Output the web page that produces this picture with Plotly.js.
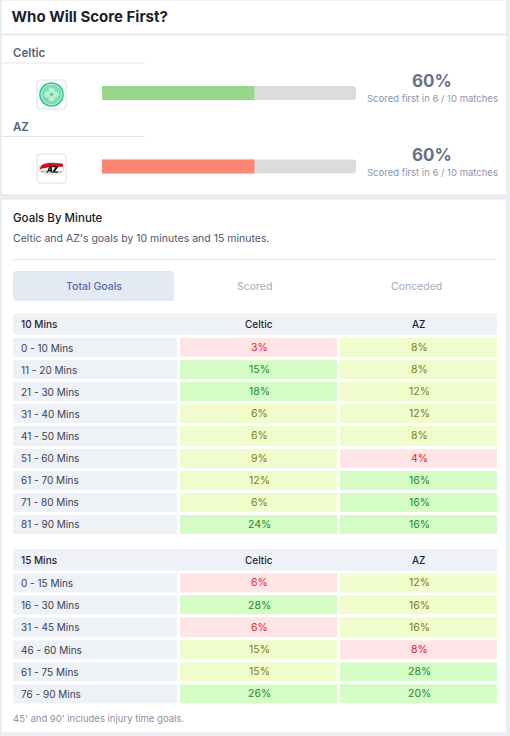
<!DOCTYPE html>
<html>
<head>
<meta charset="utf-8">
<script src="https://cdn.plot.ly/plotly-3.0.1.min.js"></script>
<style>
  html, body { margin: 0; padding: 0; background: #ebeef2; }
  #chart { width: 510px; height: 736px; }
</style>
</head>
<body>
<div id="chart"></div>
<script>
// ---------- data ----------
const teams = ['Celtic', 'AZ'];
const scoredFirst = [6, 6];
const matchesPlayed = [10, 10];
const teamBarColors = ['#98d68c', '#fa8673'];

const tabs = ['Total Goals', 'Scored', 'Conceded'];

const mins10 = ['0 - 10 Mins', '11 - 20 Mins', '21 - 30 Mins', '31 - 40 Mins', '41 - 50 Mins',
                '51 - 60 Mins', '61 - 70 Mins', '71 - 80 Mins', '81 - 90 Mins'];
const celtic10 = [3, 15, 18, 6, 6, 9, 12, 6, 24];
const az10 = [8, 8, 12, 12, 8, 4, 16, 16, 16];

const mins15 = ['0 - 15 Mins', '16 - 30 Mins', '31 - 45 Mins', '46 - 60 Mins', '61 - 75 Mins', '76 - 90 Mins'];
const celtic15 = [6, 28, 6, 15, 15, 26];
const az15 = [12, 16, 16, 8, 28, 20];

// ---------- styling helpers ----------
const W = 510, H = 736;
const X = px => px / W;
const Y = py => 1 - py / H;
const FONT = 'Inter, "Noto Sans", sans-serif';

const fills = ['#ffe5e5', '#f0fccb', '#d5fcc7'];
const inks = ['#e8232c', '#7c7d1c', '#178a2c'];
const labelFill = '#eef1f5';

function rating(v, n) {
  const expected = 100 / n;
  if (v < 0.5 * expected) return 0;
  if (v >= 1.2 * expected - 1e-9) return 2;
  return 1;
}

const discreteScale = [[0, fills[0]], [1/3, fills[0]], [1/3, fills[1]], [2/3, fills[1]], [2/3, fills[2]], [1, fills[2]]];

const pct = scoredFirst.map((s, i) => Math.round(s / matchesPlayed[i] * 100));

// ---------- traces ----------
const traces = [];
traces.push({
  type: 'bar', orientation: 'h', x: teams.map(() => 100), y: teams,
  xaxis: 'x', yaxis: 'y', width: 0.19,
  marker: { color: '#dcdcdc', cornerradius: 3 }, hoverinfo: 'skip', showlegend: false
});
traces.push({
  type: 'bar', orientation: 'h', x: pct, y: teams,
  xaxis: 'x', yaxis: 'y', width: 0.19,
  marker: { color: teamBarColors, cornerradius: 3 }, hoverinfo: 'skip', showlegend: false
});

function tableTraces(rows, cVals, aVals, xl, yl, xv, yv) {
  traces.push({
    type: 'heatmap', x: ['label'], y: rows, z: rows.map(() => [0]),
    xaxis: xl, yaxis: yl, ygap: 3, zmin: 0, zmax: 1,
    colorscale: [[0, labelFill], [1, labelFill]], showscale: false, hoverinfo: 'skip'
  });
  traces.push({
    type: 'heatmap', x: teams, y: rows,
    z: rows.map((r, i) => [rating(cVals[i], rows.length), rating(aVals[i], rows.length)]),
    xaxis: xv, yaxis: yv, xgap: 3, ygap: 3, zmin: 0, zmax: 2,
    colorscale: discreteScale, showscale: false, hoverinfo: 'skip'
  });
}
tableTraces(mins10, celtic10, az10, 'x2', 'y2', 'x3', 'y3');
tableTraces(mins15, celtic15, az15, 'x4', 'y4', 'x5', 'y5');

// ---------- shapes ----------
const shapes = [];
function rect(x0, y0, x1, y1, fill, line, lw) {
  shapes.push({ type: 'rect', xref: 'paper', yref: 'paper', x0: X(x0), x1: X(x1), y0: Y(y1), y1: Y(y0),
    fillcolor: fill, line: { color: line || fill, width: lw || 0 }, layer: 'below' });
}
function rrect(x0, y0, x1, y1, r, fill, line, lw) {
  const p = `M ${X(x0 + r)} ${Y(y0)} L ${X(x1 - r)} ${Y(y0)} Q ${X(x1)} ${Y(y0)} ${X(x1)} ${Y(y0 + r)} ` +
            `L ${X(x1)} ${Y(y1 - r)} Q ${X(x1)} ${Y(y1)} ${X(x1 - r)} ${Y(y1)} L ${X(x0 + r)} ${Y(y1)} ` +
            `Q ${X(x0)} ${Y(y1)} ${X(x0)} ${Y(y1 - r)} L ${X(x0)} ${Y(y0 + r)} Q ${X(x0)} ${Y(y0)} ${X(x0 + r)} ${Y(y0)} Z`;
  shapes.push({ type: 'path', xref: 'paper', yref: 'paper', path: p, fillcolor: fill,
    line: { color: line || fill, width: lw || 0 }, layer: 'below' });
}
function hline(x0, x1, y, color, w) {
  shapes.push({ type: 'line', xref: 'paper', yref: 'paper', x0: X(x0), x1: X(x1), y0: Y(y), y1: Y(y),
    line: { color: color, width: w }, layer: 'below' });
}
rect(1, 0, 507, 195, '#ffffff', '#e2e5ea', 1);
hline(1.5, 506.5, 34.5, '#e6e9ee', 2);
hline(1.5, 145, 63, '#e2e5ea', 1);
hline(1.5, 145, 136.5, '#e2e5ea', 1);
rrect(37, 80, 66, 109, 3, '#ffffff', '#dde0e7', 1);
rrect(37, 154, 66, 183, 3, '#ffffff', '#dde0e7', 1);
rect(1, 199, 507, 733, '#ffffff', '#e2e5ea', 1);
hline(13, 497, 259.5, '#e4e6eb', 1);
rrect(13, 271, 174, 301, 3, '#e4eaf4');
rect(13, 313.3, 497, 334.7, labelFill);
rect(13, 549, 497, 570.7, labelFill);

// ---------- annotations ----------
const ann = [];
function txt(o) {
  ann.push(Object.assign({ showarrow: false, xanchor: 'left', yanchor: 'middle', borderpad: 0 }, o));
}
teams.forEach((t, i) => {
  txt({ text: t, xref: 'paper', x: X(13), xshift: -1.5, yref: 'y', y: t, yshift: 39.5,
        font: { family: FONT, size: 11.5, color: '#5b6378', weight: 600 } });
  txt({ text: pct[i] + '%', xref: 'paper', x: X(432), xanchor: 'center', yref: 'y', y: t, yshift: 12,
        font: { family: FONT, size: 17, color: '#697185', weight: 700 } });
  txt({ text: 'Scored first in ' + scoredFirst[i] + ' / ' + matchesPlayed[i] + ' matches',
        xref: 'paper', x: X(432), xanchor: 'center', yref: 'y', y: t, yshift: -6,
        font: { family: FONT, size: 9.5, color: '#8d95a7' } });
});

txt({ text: 'Goals By Minute', xref: 'paper', x: X(13), xshift: -1.5, yref: 'paper', y: Y(217.5),
      font: { family: FONT, size: 11.5, color: '#161a28', weight: 500 } });
txt({ text: "Celtic and AZ's goals by 10 minutes and 15 minutes.", xref: 'paper', x: X(13), xshift: -1.5, yref: 'paper', y: Y(238.5),
      font: { family: FONT, size: 10.5, color: '#4f5669' } });

const tabCenters = [93.5, 254.5, 416];
tabs.forEach((t, i) => {
  txt({ text: t, xref: 'paper', x: X(tabCenters[i]), xanchor: 'center', yref: 'paper', y: Y(286),
        font: { family: FONT, size: 10.5, color: i === 0 ? '#5a67b2' : '#a4abbc', weight: i === 0 ? 500 : 400 } });
});

function tableText(title, rows, cVals, aVals, xl, yl, xv, yv, headShift) {
  txt({ text: title, xref: xl + ' domain', x: 0, xshift: 6.5, yref: yl + ' domain', y: 1, yshift: headShift,
        font: { family: FONT, size: 10, color: '#1f2433', weight: 500 } });
  teams.forEach(t => {
    txt({ text: t, xref: xv, x: t, xanchor: 'center', yref: yv + ' domain', y: 1, yshift: headShift,
          font: { family: FONT, size: 10, color: '#1f2433', weight: 500 } });
  });
  rows.forEach((r, i) => {
    txt({ text: r, xref: xl + ' domain', x: 0, xshift: 6.5, yref: yl, y: r, yshift: 0.5,
          font: { family: FONT, size: 10, color: '#3b4254' } });
    [cVals[i], aVals[i]].forEach((v, j) => {
      txt({ text: v + '%', xref: xv, x: teams[j], xanchor: 'center', yref: yv, y: r, yshift: 0.5,
            font: { family: FONT, size: 10.5, color: inks[rating(v, rows.length)] } });
    });
  });
}
tableText('10 Mins', mins10, celtic10, az10, 'x2', 'y2', 'x3', 'y3', 12.5);
tableText('15 Mins', mins15, celtic15, az15, 'x4', 'y4', 'x5', 'y5', 12.5);

txt({ text: "45' and 90' includes injury time goals.", xref: 'paper', x: X(13), xshift: -1.5, yref: 'paper', y: Y(718),
      font: { family: FONT, size: 9.5, color: '#8c92a2' } });

// ---------- logos ----------
const celticSvg = "<svg xmlns='http://www.w3.org/2000/svg' viewBox='0 0 24 24'>" +
  "<circle cx='12' cy='12' r='11.8' fill='#35c08a'/>" +
  "<circle cx='12' cy='12' r='10' fill='#7fdcb3' stroke='#e8fbf2' stroke-width='0.7'/>" +
  "<circle cx='12' cy='8.3' r='3' fill='#b5efd4'/><circle cx='12' cy='15.7' r='3' fill='#b5efd4'/>" +
  "<circle cx='8.3' cy='12' r='3' fill='#b5efd4'/><circle cx='15.7' cy='12' r='3' fill='#b5efd4'/>" +
  "<circle cx='12' cy='12' r='1.6' fill='#5ccf9f'/></svg>";
const azSvg = "<svg xmlns='http://www.w3.org/2000/svg' viewBox='0 0 28 14'>" +
  "<ellipse cx='14' cy='7' rx='13.3' ry='6.3' fill='#ffffff' stroke='#bbbbbb' stroke-width='0.8'/>" +
  "<path d='M1.5 8 C2 2.5 8 1.2 14 1.2 L25.5 1.5 C26.5 2.5 26.8 4 26 5.2 L14 5.5 C9 5.8 5 7 1.5 8 Z' fill='#e30613'/>" +
  "<path d='M8.5 11.5 L12 4 L14 4 L15 11.5 L13 11.5 L12.8 10 L11 10 L10.3 11.5 Z M11.6 8.6 L12.7 8.6 L12.6 6.3 Z' fill='#111111'/>" +
  "<path d='M15.2 4.2 L21.5 4.2 L21 5.6 L17.8 10 L21 10 L20.5 11.5 L14.6 11.5 L15 10.1 L18.3 5.7 L15 5.7 Z' fill='#111111'/>" +
  "<path d='M3 10 C8 9.5 14 11.8 25 10.5' stroke='#777' stroke-width='0.8' fill='none'/></svg>";
const toUri = s => 'data:image/svg+xml;charset=utf-8,' + encodeURIComponent(s);
const images = [
  { source: toUri(celticSvg), xref: 'paper', yref: 'paper', x: X(51.5), y: Y(94.5), sizex: X(25), sizey: 25 / H,
    xanchor: 'center', yanchor: 'middle', sizing: 'contain', layer: 'above' },
  { source: toUri(azSvg), xref: 'paper', yref: 'paper', x: X(51.5), y: Y(168.5), sizex: X(26), sizey: 14 / H,
    xanchor: 'center', yanchor: 'middle', sizing: 'contain', layer: 'above' }
];

// ---------- axes ----------
const hidden = { visible: false, fixedrange: true, showgrid: false, zeroline: false };
const layout = {
  width: W, height: H,
  margin: { l: 0, r: 0, t: 0, b: 0, pad: 0 },
  paper_bgcolor: '#ebeef2', plot_bgcolor: 'rgba(0,0,0,0)',
  showlegend: false, barmode: 'overlay',
  title: { text: 'Who Will Score First?', x: X(11.5), xanchor: 'left', xref: 'paper', y: Y(16.5), yanchor: 'middle', yref: 'container',
           font: { family: FONT, size: 15, color: '#1b1f2e', weight: 700 } },
  xaxis: Object.assign({ domain: [X(102), X(356)], range: [0, 100], anchor: 'y' }, hidden),
  yaxis: Object.assign({ domain: [Y(203.25), Y(56.25)], type: 'category', categoryarray: teams, range: [1.5, -0.5], anchor: 'x' }, hidden),
  xaxis2: Object.assign({ domain: [X(13), X(177)], type: 'category', range: [-0.5, 0.5], anchor: 'y2' }, hidden),
  yaxis2: Object.assign({ domain: [Y(536), Y(337)], type: 'category', categoryarray: mins10, range: [mins10.length - 0.5, -0.5], anchor: 'x2' }, hidden),
  xaxis3: Object.assign({ domain: [X(179), X(499)], type: 'category', categoryarray: teams, range: [-0.5, 1.5], anchor: 'y3' }, hidden),
  yaxis3: Object.assign({ domain: [Y(536), Y(337)], type: 'category', categoryarray: mins10, range: [mins10.length - 0.5, -0.5], anchor: 'x3' }, hidden),
  xaxis4: Object.assign({ domain: [X(13), X(177)], type: 'category', range: [-0.5, 0.5], anchor: 'y4' }, hidden),
  yaxis4: Object.assign({ domain: [Y(705.5), Y(572.3)], type: 'category', categoryarray: mins15, range: [mins15.length - 0.5, -0.5], anchor: 'x4' }, hidden),
  xaxis5: Object.assign({ domain: [X(179), X(499)], type: 'category', categoryarray: teams, range: [-0.5, 1.5], anchor: 'y5' }, hidden),
  yaxis5: Object.assign({ domain: [Y(705.5), Y(572.3)], type: 'category', categoryarray: mins15, range: [mins15.length - 0.5, -0.5], anchor: 'x5' }, hidden),
  shapes: shapes,
  annotations: ann,
  images: images
};

Plotly.newPlot('chart', traces, layout, { displayModeBar: false, staticPlot: true });
</script>
</body>
</html>
